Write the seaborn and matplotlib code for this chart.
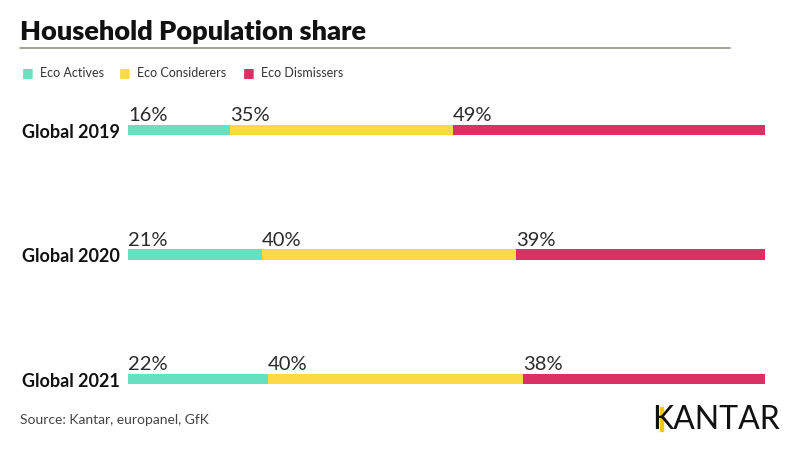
import matplotlib
matplotlib.use("Agg")
import matplotlib.pyplot as plt
import seaborn as sns
import pandas as pd
import numpy as np

sns.set_theme(style="white")
plt.rcParams['font.family'] = ['Lato', 'DejaVu Sans']

# data
years = ['Global 2019', 'Global 2020', 'Global 2021']
eco_actives = [16, 21, 22]
eco_considerers = [35, 40, 40]
eco_dismissers = [49, 39, 38]
series = ['Eco Actives', 'Eco Considerers', 'Eco Dismissers']
colors = ['#66E0BF', '#FADB46', '#DA3064']

vals = np.array([eco_actives, eco_considerers, eco_dismissers])
cum = vals.cumsum(axis=0)
starts = cum - vals

fig = plt.figure(figsize=(8, 4.52), dpi=100)
ax = fig.add_axes([0.16, 0.0216, 0.796, 0.826])

# stacked bars: draw the running totals from the largest down
for i in [2, 1, 0]:
    df = pd.DataFrame({'year': years, 'value': cum[i]})
    sns.barplot(data=df, x='value', y='year', color=colors[i], orient='h',
                width=0.085, saturation=1, ax=ax, linewidth=0)

ax.set_xlim(0, 100)
ax.set_ylim(2.5, -0.5)
ax.set_xlabel('')
ax.set_ylabel('')
ax.set_xticks([])
ax.set_yticks([])
for s in ax.spines.values():
    s.set_visible(False)

for j, y in enumerate(years):
    ax.text(-1.2, j + 0.01, y, ha='right', va='center', fontsize=13,
            fontweight='bold', color='#111111')
    for i in range(3):
        ax.text(starts[i, j], j - 0.055, f'{vals[i, j]}%', ha='left',
                va='bottom', fontsize=14.5, fontweight='normal',
                color='#2a2a2a')

# title and rule
fig.text(20 / 800, 1 - 32 / 452, 'Household Population share', ha='left',
         va='center', fontsize=19.5, fontweight='heavy', color='#111111')
fig.add_artist(plt.Line2D([20 / 800, 730 / 800], [1 - 49 / 452] * 2,
                          color='#9b9b8c', linewidth=1.3))

# legend
leg_x = [22, 119, 243]
for i, name in enumerate(series):
    fig.text(leg_x[i] / 800, 1 - 73 / 452, '■', ha='left', va='center',
             fontsize=9, color=colors[i], family='DejaVu Sans')
    fig.text((leg_x[i] + 18) / 800, 1 - 73 / 452, name, ha='left',
             va='center', fontsize=9, color='#333333')

# source and logo
fig.text(20 / 800, 1 - 420 / 452, 'Source: Kantar, europanel, GfK',
         ha='left', va='center', fontsize=10, color='#444444')
fig.text(780 / 800, 1 - 420 / 452, 'KANTAR', ha='right', va='center',
         fontsize=23, color='#111111')
fig.add_artist(plt.Rectangle((660 / 800, 1 - 432 / 452), 2.5 / 800, 24 / 452,
                             color='#F5C518', transform=fig.transFigure))

fig.savefig('out.png', dpi=100)
